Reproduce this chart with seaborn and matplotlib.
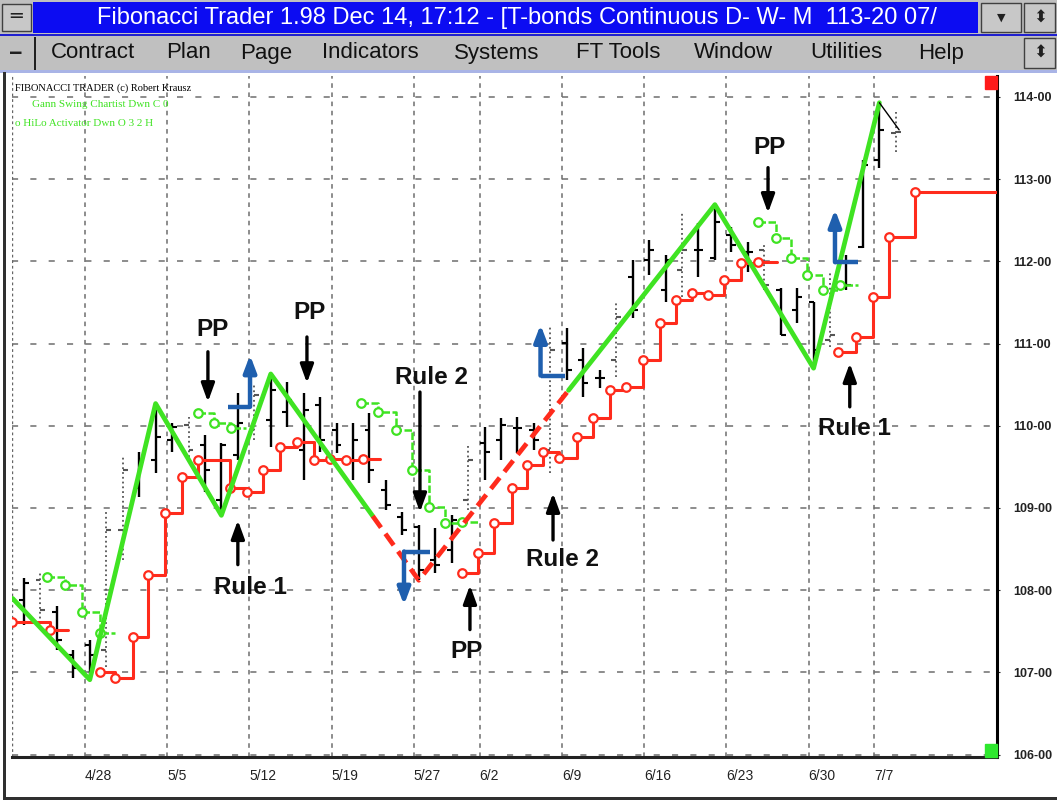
import matplotlib
matplotlib.use("Agg")
import matplotlib.pyplot as plt
from matplotlib.patches import Rectangle
import numpy as np
import pandas as pd
import seaborn as sns

# trading day index, 0 = 4/28
day_idx = list(range(-4, 50))
bar_high = [108.15, 108.22, 107.81, 107.27, 107.39, 108.98, 109.62, 109.68, 110.27, 110.03,
            110.11, 109.89, 109.79, 110.40, 110.50, 110.63, 110.53, 110.40, 110.35, 110.03,
            110.03, 110.16, 109.34, 108.95, 108.79, 108.76, 108.92, 109.79, 109.99, 110.10,
            110.11, 110.03, 111.20, 111.19, 110.95, 110.68, 111.51, 112.02, 112.26, 112.08,
            112.59, 112.47, 112.69, 112.42, 112.24, 112.20, 111.68, 111.68, 111.51, 111.86,
            112.08, 113.23, 113.93, 113.82]
bar_low = [107.58, 107.54, 107.27, 106.93, 106.91, 107.07, 108.37, 109.13, 109.43, 109.68,
           109.62, 109.19, 108.91, 109.58, 109.83, 109.74, 109.99, 109.34, 109.68, 109.67,
           109.34, 109.30, 108.98, 108.67, 108.12, 108.21, 108.33, 108.98, 109.34, 109.58,
           109.67, 109.71, 109.43, 110.56, 110.35, 110.46, 110.59, 111.31, 111.83, 111.51,
           111.57, 111.81, 112.02, 112.11, 111.87, 111.65, 111.10, 111.25, 110.70, 110.96,
           111.65, 112.16, 113.14, 113.33]
bar_open = [107.88, 108.12, 107.74, 107.21, 107.33, 107.27, 108.73, 109.24, 109.58, 109.83,
            110.01, 109.77, 109.10, 109.65, 109.95, 110.07, 110.17, 109.71, 110.25, 109.95,
            109.58, 109.95, 109.22, 108.89, 108.77, 108.37, 108.49, 109.10, 109.79, 109.83,
            109.97, 109.95, 109.71, 111.01, 110.80, 110.58, 110.80, 111.81, 112.02, 111.65,
            111.90, 112.14, 112.04, 112.32, 112.11, 112.14, 111.65, 111.41, 111.51, 111.04,
            111.99, 112.18, 113.23, 113.56]
bar_close = [108.09, 107.76, 107.39, 107.05, 107.21, 108.73, 109.46, 109.58, 109.86, 109.99,
             109.71, 109.46, 109.77, 110.03, 110.37, 110.44, 110.31, 110.19, 109.83, 109.77,
             109.83, 109.46, 109.04, 108.73, 108.25, 108.31, 108.85, 109.58, 109.68, 110.01,
             109.97, 109.83, 110.92, 110.68, 110.52, 110.58, 111.32, 111.41, 112.14, 112.02,
             112.14, 112.14, 112.48, 112.20, 112.11, 111.71, 111.10, 111.57, 110.92, 111.10,
             111.71, 113.17, 113.60, 113.57]
dotted_bars = [-3, 1, 2, 6, 10, 23, 28, 32, 36, 41, 45, 49]

date_idx = [0, 5, 10, 15, 20, 24, 29, 34, 39, 44, 48]
date_labels = ["4/28", "5/5", "5/12", "5/19", "5/27", "6/2", "6/9", "6/16", "6/23", "6/30", "7/7"]
price_ticks = [106, 107, 108, 109, 110, 111, 112, 113, 114]
price_labels = ["106-00", "107-00", "108-00", "109-00", "110-00", "111-00", "112-00", "113-00", "114-00"]

# Gann swing chartist
swing_x = [-4.7, 0, 4, 8, 11, 20, 38, 44, 48]
swing_y = [107.90, 106.91, 110.27, 108.91, 110.63, 108.12, 112.69, 110.70, 113.93]
swing_unconfirmed = [17.2, 29.1]
swing_tail_x = [48, 49.2]
swing_tail_y = [113.93, 113.60]

# HiLo activator, up mode (red) and down mode (green); last point closes the step
red_a_x = [-4.7, -2.45, -1.3]
red_a_y = [107.61, 107.52, 107.52]
red_b_x = [0.6, 1.55, 2.6, 3.55, 4.6, 5.6, 6.55, 8.5, 9.55, 10.55, 11.55, 12.6, 13.6, 14.6,
           15.6, 16.6, 17.65]
red_b_y = [107.00, 106.93, 107.43, 108.18, 108.94, 109.38, 109.58, 109.24, 109.19, 109.46,
           109.74, 109.80, 109.58, 109.59, 109.58, 109.59, 109.59]
red_c_x = [22.6, 23.6, 24.6, 25.65, 26.6, 27.55, 28.55, 29.6, 30.6, 31.6, 32.6, 33.6, 34.65,
           35.65, 36.6, 37.6, 38.55, 39.6, 40.6, 41.8]
red_c_y = [108.21, 108.45, 108.82, 109.24, 109.52, 109.68, 109.61, 109.86, 110.10, 110.44,
           110.47, 110.80, 111.25, 111.53, 111.62, 111.59, 111.77, 111.98, 111.99, 111.99]
red_d_x = [45.5, 46.6, 47.6, 48.6, 50.15, 55.2]
red_d_y = [110.90, 111.08, 111.57, 112.30, 112.84, 112.84]
green_a_x = [-2.6, -1.5, -0.45, 0.6, 1.55]
green_a_y = [108.16, 108.06, 107.73, 107.48, 107.48]
green_b_x = [6.55, 7.55, 8.6, 9.5]
green_b_y = [110.16, 110.03, 109.97, 109.97]
green_c_x = [16.5, 17.5, 18.6, 19.6, 20.6, 21.6, 22.6, 23.7]
green_c_y = [110.28, 110.17, 109.95, 109.46, 109.01, 108.82, 108.83, 108.83]
green_d_x = [40.6, 41.7, 42.6, 43.6, 44.6, 45.6, 46.7]
green_d_y = [112.48, 112.28, 112.04, 111.83, 111.65, 111.71, 111.71]

# entry signals (blue L arrows)
signal_corner_x = [9.74, 19.1, 27.4, 45.3]
signal_end_x = [8.4, 20.7, 28.9, 46.7]
signal_level = [110.23, 108.47, 110.61, 111.99]
signal_tip = [110.86, 107.82, 111.23, 112.63]

# text callouts
note_text = ["PP", "PP", "Rule 2", "Rule 1", "Rule 2", "PP", "PP", "Rule 1"]
note_x = [7.43, 13.33, 20.8, 9.74, 28.76, 22.87, 41.34, 46.5]
note_y = [111.17, 111.38, 110.59, 108.03, 108.37, 107.25, 113.39, 109.97]
arrow_x = [7.18, 13.2, 20.07, 9.0, 28.16, 23.11, 41.23, 46.2]
arrow_from = [110.90, 111.08, 110.41, 108.31, 108.61, 107.52, 113.14, 110.23]
arrow_to = [110.29, 110.52, 108.95, 108.85, 109.18, 108.06, 112.59, 110.76]

GREEN = "#3fe322"
RED = "#ff2b1c"
BLUE = "#1f5fae"
NARROW = ["Liberation Sans Narrow", "Liberation Sans", "DejaVu Sans"]

sns.set_style("white")
plt.rcParams["font.family"] = NARROW

W, H = 1057, 801
fig = plt.figure(figsize=(W / 100, H / 100), dpi=100)


def fx(px):
    return px / W


def fy(py):
    return 1 - py / H


def frect(x0, y0, x1, y1, **kw):
    fig.patches.append(Rectangle((fx(x0), fy(y1)), fx(x1 - x0), (y1 - y0) / H,
                                 transform=fig.transFigure, **kw))


# window chrome
frect(0, 0, W, 72, facecolor="#c0c0c0", edgecolor="none")
frect(33, 2, 978, 33, facecolor="#0c0cf2", edgecolor="none")
frect(2, 4, 31, 31, facecolor="#c8c8c8", edgecolor="#404040", lw=1)
frect(981, 3, 1021, 32, facecolor="#c8c8c8", edgecolor="#404040", lw=1)
frect(1024, 3, 1055, 32, facecolor="#c8c8c8", edgecolor="#404040", lw=1)
frect(1024, 38, 1055, 68, facecolor="#c8c8c8", edgecolor="#404040", lw=1)
frect(0, 34, W, 36, facecolor="#2020d0", edgecolor="none")
frect(0, 70, W, 73, facecolor="#a9b4e6", edgecolor="none")
frect(34, 37, 36, 70, facecolor="#202020", edgecolor="none")
frect(3, 72, 6, 800, facecolor="#303030", edgecolor="none")
frect(3, 797, W, 800, facecolor="#303030", edgecolor="none")
fig.text(fx(16), fy(17), "\u2550", ha="center", va="center", fontsize=14, color="#202020",
         family="DejaVu Sans")
fig.text(fx(16), fy(53), "\u2012", ha="center", va="center", fontsize=14, color="#202020",
         family="DejaVu Sans", fontweight="bold")
fig.text(fx(1001), fy(18), "\u25BC", ha="center", va="center", fontsize=8, color="#202020",
         family="DejaVu Sans")
for yy in (18, 53):
    fig.text(fx(1040), fy(yy), "\u2B0D", ha="center", va="center", fontsize=12, color="#202020",
             family="DejaVu Sans")
fig.text(fx(517), fy(18), "Fibonacci Trader 1.98 Dec 14, 17:12 - [T-bonds Continuous D- W- M  113-20 07/",
         ha="center", va="center", fontsize=17, color="white")
menu_items = ["Contract", "Plan", "Page", "Indicators", "Systems", "FT Tools", "Window", "Utilities", "Help"]
menu_x = [51, 166, 240, 322, 454, 576, 694, 810, 918]
for label, mx in zip(menu_items, menu_x):
    fig.text(fx(mx), fy(53), label, ha="left", va="center", fontsize=16, color="#111111")

# chart
ax = fig.add_axes([fx(12), fy(757), fx(997 - 12), (757 - 76) / H])
ax.set_xlim(-4.73, 55.15)
ax.set_ylim(105.97, 114.255)

for p in price_ticks:
    ax.axhline(p, color="#6e6e6e", lw=1.1, ls=(0, (4, 8)), zorder=0)
for d in date_idx:
    ax.axvline(d - 0.3, color="#6e6e6e", lw=1.1, ls=(0, (3, 3)), zorder=0)

bars = pd.DataFrame({"x": day_idx, "high": bar_high, "low": bar_low,
                     "open": bar_open, "close": bar_close})
bars["dotted"] = bars["x"].isin(dotted_bars)
for dotted, grp in bars.groupby("dotted"):
    col = "#555555" if dotted else "black"
    ls = ":" if dotted else "-"
    lw = 1.3 if dotted else 1.7
    ax.vlines(grp["x"], grp["low"], grp["high"], color=col, lw=lw, ls=ls, zorder=2)
    ax.hlines(grp["open"], grp["x"] - 0.3, grp["x"], color=col, lw=1.5, zorder=2)
    ax.hlines(grp["close"], grp["x"], grp["x"] + 0.3, color=col, lw=1.5, zorder=2)

# HiLo activator steps
for sx, sy, col, ls, lw in [(red_a_x, red_a_y, RED, "-", 2.2), (red_b_x, red_b_y, RED, "-", 2.2),
                            (red_c_x, red_c_y, RED, "-", 2.2), (red_d_x, red_d_y, RED, "-", 2.2),
                            (green_a_x, green_a_y, GREEN, (0, (3, 1)), 1.8),
                            (green_b_x, green_b_y, GREEN, (0, (3, 1)), 1.8),
                            (green_c_x, green_c_y, GREEN, (0, (3, 1)), 1.8),
                            (green_d_x, green_d_y, GREEN, (0, (3, 1)), 1.8)]:
    sns.lineplot(x=sx, y=sy, ax=ax, color=col, lw=lw, ls=ls, drawstyle="steps-post",
                 estimator=None, sort=False, zorder=3)
    ax.scatter(sx[:-1], sy[:-1], s=38, facecolor="white", edgecolor=col, lw=1.6, zorder=4)

# Gann swing line
seg_x = np.sort(np.concatenate([swing_x, swing_unconfirmed]))
seg_y = np.interp(seg_x, swing_x, swing_y)
lo, hi = swing_unconfirmed
sw = pd.DataFrame({"x": seg_x, "y": seg_y})
left = sw[sw["x"] <= lo]
mid = sw[(sw["x"] >= lo) & (sw["x"] <= hi)]
right = sw[sw["x"] >= hi]
for part in (left, right):
    sns.lineplot(data=part, x="x", y="y", ax=ax, color=GREEN, lw=3.4, estimator=None,
                 sort=False, zorder=5)
sns.lineplot(data=mid, x="x", y="y", ax=ax, color=RED, lw=3.4, ls=(0, (3, 1.6)),
             estimator=None, sort=False, zorder=5)
ax.plot(swing_tail_x, swing_tail_y, color="black", lw=1.0, zorder=5)

# blue signals
for cx, ex, lv, tp in zip(signal_corner_x, signal_end_x, signal_level, signal_tip):
    ax.plot([ex, cx], [lv, lv], color=BLUE, lw=3.2, solid_capstyle="butt", zorder=6)
    ax.annotate("", xy=(cx, tp), xytext=(cx, lv),
                arrowprops=dict(arrowstyle="-|>,head_length=1.0,head_width=0.38",
                                color=BLUE, lw=3.2, shrinkA=0, shrinkB=0), zorder=6)

# callouts
for t, tx, ty, axx, a0, a1 in zip(note_text, note_x, note_y, arrow_x, arrow_from, arrow_to):
    ax.text(tx, ty, t, ha="center", va="center", fontsize=17.5, fontweight="bold", color="#111111",
            zorder=7)
    ax.annotate("", xy=(axx, a1), xytext=(axx, a0),
                arrowprops=dict(arrowstyle="-|>,head_length=1.1,head_width=0.4",
                                color="black", lw=2.4, shrinkA=0, shrinkB=0), zorder=7)

ax.add_patch(Rectangle((1 - 12 / 985, 1 - 13 / 681), 12 / 985, 13 / 681,
                       transform=ax.transAxes, color="#ff1a1a", zorder=8, clip_on=False))
ax.add_patch(Rectangle((1 - 12 / 985, 0), 12 / 985, 13 / 681,
                       transform=ax.transAxes, color="#2ee82e", zorder=8, clip_on=False))

ax.text(0.003, 0.982, "FIBONACCI TRADER (c) Robert Krausz", transform=ax.transAxes,
        fontsize=7.5, family="Liberation Serif", color="black", va="center")
ax.text(0.02, 0.958, "Gann Swing Chartist Dwn C 0", transform=ax.transAxes,
        fontsize=8, family="Liberation Serif", color=GREEN, va="center")
ax.text(0.003, 0.93, "o HiLo Activator Dwn O 3 2 H", transform=ax.transAxes,
        fontsize=8, family="Liberation Serif", color=GREEN, va="center")

ax.yaxis.tick_right()
ax.set_yticks(price_ticks)
ax.set_yticklabels(price_labels, fontsize=9, fontweight="bold", color="#222222")
ax.set_xticks([d - 0.3 for d in date_idx])
ax.set_xticklabels(date_labels, fontsize=10, color="#222222", ha="left")
ax.tick_params(axis="y", length=2, pad=10, right=True, left=False)
ax.tick_params(axis="x", length=0, pad=9)
ax.set_xlabel("")
ax.set_ylabel("")

for side in ("top", "left"):
    ax.spines[side].set_visible(False)
ax.spines["right"].set_color("black")
ax.spines["right"].set_linewidth(2.2)
ax.spines["bottom"].set_color("#222222")
ax.spines["bottom"].set_linewidth(2.2)
ax.spines["bottom"].set_linestyle((0, (5, 1)))
ax.axvline(-4.73, color="#666666", lw=1, ls=(0, (2, 2)))

fig.savefig("out.png", dpi=100)
